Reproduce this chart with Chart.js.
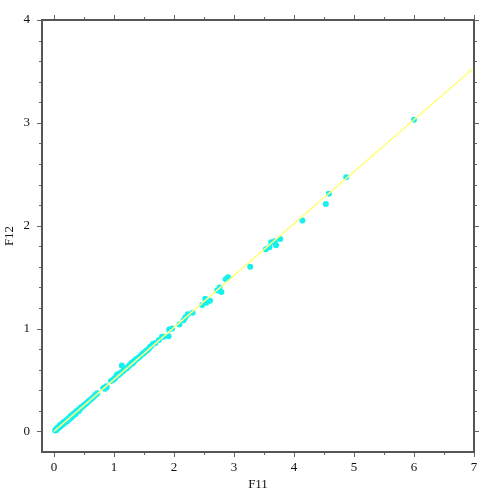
<!DOCTYPE html>
<html>
<head>
<meta charset="utf-8">
<script src="https://cdn.jsdelivr.net/npm/chart.js@4/dist/chart.umd.min.js"></script>
<style>
  html, body { margin: 0; padding: 0; background: #fff; }
  #wrap { width: 488px; height: 493px; }
</style>
</head>
<body>
<div id="wrap"><canvas id="graphCanvas"></canvas></div>
<script>
    // F11 / F12 pairs
    const f11 = [
        0.02, 0.03, 0.04, 0.05, 0.05, 0.06, 0.07, 0.08, 0.09, 0.10, 0.10, 0.11, 0.12, 0.13, 0.14, 0.15,
        0.15, 0.16, 0.17, 0.18, 0.19, 0.20, 0.21, 0.22, 0.23, 0.24, 0.25, 0.26, 0.27, 0.28, 0.29, 0.30,
        0.31, 0.32, 0.33, 0.34, 0.35, 0.36, 0.37, 0.38, 0.40, 0.41, 0.42, 0.44, 0.45, 0.47, 0.49, 0.51,
        0.53, 0.55, 0.57, 0.60, 0.62, 0.65, 0.68, 0.70, 0.72, 0.82, 0.84, 0.86, 0.87, 0.85, 0.88, 0.95,
        0.98, 1.00, 1.02, 1.04, 1.05, 1.07, 1.08, 1.10, 1.13, 1.12, 1.15, 1.17, 1.20, 1.22, 1.25, 1.27,
        1.29, 1.30, 1.31, 1.33, 1.35, 1.36, 1.38, 1.40, 1.42, 1.44, 1.46, 1.48, 1.50, 1.52, 1.54, 1.56,
        1.58, 1.60, 1.62, 1.65, 1.69, 1.75, 1.80, 1.83, 1.91, 1.97, 1.92, 2.09, 2.16, 2.19, 2.23, 2.31,
        2.47, 2.54, 2.60, 2.52, 2.72, 2.76, 2.79, 2.86, 2.90, 3.27, 3.53, 3.59, 3.70, 3.62, 3.68, 3.77,
        4.14, 4.53, 4.58, 4.87, 6.00
    ];
    const f12 = [
        0.010, 0.020, 0.015, 0.030, 0.020, 0.030, 0.040, 0.035, 0.050, 0.045, 0.060, 0.055, 0.070, 0.060, 0.075, 0.070,
        0.085, 0.080, 0.095, 0.085, 0.100, 0.095, 0.110, 0.100, 0.120, 0.115, 0.130, 0.120, 0.145, 0.135, 0.155, 0.140,
        0.160, 0.155, 0.175, 0.165, 0.180, 0.170, 0.195, 0.190, 0.205, 0.195, 0.215, 0.220, 0.235, 0.240, 0.250, 0.260,
        0.270, 0.280, 0.290, 0.305, 0.315, 0.330, 0.350, 0.360, 0.370, 0.420, 0.425, 0.430, 0.440, 0.415, 0.430, 0.490,
        0.500, 0.510, 0.520, 0.540, 0.550, 0.545, 0.560, 0.560, 0.640, 0.575, 0.585, 0.600, 0.610, 0.620, 0.635, 0.650,
        0.660, 0.670, 0.660, 0.680, 0.690, 0.700, 0.705, 0.715, 0.720, 0.735, 0.745, 0.755, 0.765, 0.775, 0.785, 0.795,
        0.805, 0.820, 0.830, 0.850, 0.860, 0.890, 0.920, 0.920, 0.925, 1.000, 0.990, 1.040, 1.080, 1.110, 1.140, 1.155,
        1.230, 1.250, 1.270, 1.290, 1.370, 1.400, 1.355, 1.480, 1.500, 1.600, 1.770, 1.790, 1.810, 1.840, 1.850, 1.870,
        2.050, 2.210, 2.310, 2.470, 3.030
    ];
    // fitted line end points
    const fitX = [0, 7];
    const fitY = [0, 3.535];

    const xTickValues = [0, 1, 2, 3, 4, 5, 6, 7];
    const yTickValues = [0, 1, 2, 3, 4];
    const xMinorValues = [-0.5, 0.5, 1.5, 2.5, 3.5, 4.5, 5.5, 6.5];
    const yMinorValues = [0.2, 0.4, 0.6, 0.8, 1.2, 1.4, 1.6, 1.8, 2.2, 2.4, 2.6, 2.8, 3.2, 3.4, 3.6, 3.8];

    const points = f11.map((x, i) => ({ x: x, y: f12[i] }));
    const fitLine = fitX.map((x, i) => ({ x: x, y: fitY[i] }));

    const font = { family: "'Liberation Serif', serif", size: 13 };

    // frame round the plot plus inner/outer tick marks on all four sides
    const frameTicks = {
        id: 'frameTicks',
        afterDraw(chart) {
            const c = chart.ctx;
            const a = chart.chartArea;
            const xs = chart.scales.x, ys = chart.scales.y;
            c.save();
            c.strokeStyle = '#666';
            c.lineWidth = 1;
            const tick = (x1, y1, x2, y2) => {
                c.beginPath(); c.moveTo(x1, y1); c.lineTo(x2, y2); c.stroke();
            };
            xTickValues.forEach(v => {
                const p = Math.round(xs.getPixelForValue(v)) + 0.5;
                tick(p, a.bottom, p, a.bottom + 5);
                tick(p, a.top, p, a.top - 5);
            });
            xMinorValues.forEach(v => {
                if (v < xs.min) return;
                const p = Math.round(xs.getPixelForValue(v)) + 0.5;
                tick(p, a.bottom, p, a.bottom + 3);
                tick(p, a.top, p, a.top - 3);
            });
            yTickValues.forEach(v => {
                const p = Math.round(ys.getPixelForValue(v)) + 0.5;
                tick(a.left, p, a.left - 5, p);
                tick(a.right, p, a.right + 5, p);
            });
            yMinorValues.forEach(v => {
                const p = Math.round(ys.getPixelForValue(v)) + 0.5;
                tick(a.left, p, a.left - 3, p);
                tick(a.right, p, a.right + 3, p);
            });
            c.strokeStyle = '#555';
            c.lineWidth = 2;
            c.strokeRect(a.left, a.top, a.right - a.left, a.bottom - a.top);
            c.restore();
        }
    };

    new Chart(document.getElementById('graphCanvas'), {
        type: 'scatter',
        data: {
            datasets: [{
                type: 'line',
                label: 'fit',
                data: fitLine,
                borderColor: '#ffff7a',
                borderWidth: 1.5,
                pointRadius: 0,
                fill: false,
                order: 0
            }, {
                label: 'F12',
                data: points,
                backgroundColor: '#14f0f0',
                borderWidth: 0,
                pointRadius: 3,
                order: 1
            }]
        },
        plugins: [frameTicks],
        options: {
            responsive: true,
            maintainAspectRatio: false,
            animation: false,
            plugins: {
                legend: { display: false },
                tooltip: { enabled: false }
            },
            layout: {
                padding: { top: 20, right: 14, left: 0, bottom: 0 }
            },
            scales: {
                x: {
                    type: 'linear',
                    min: -0.2,
                    max: 7,
                    afterBuildTicks: scale => { scale.ticks = xTickValues.map(v => ({ value: v })); },
                    afterFit: scale => { scale.height = 41; },
                    grid: { display: false, drawTicks: false },
                    border: { display: false },
                    ticks: { color: '#111', font: font, padding: 8 },
                    title: { display: true, text: 'F11', color: '#111', font: font, padding: { top: 0, bottom: 1 } }
                },
                y: {
                    type: 'linear',
                    min: -0.2,
                    max: 4,
                    afterBuildTicks: scale => { scale.ticks = yTickValues.map(v => ({ value: v })); },
                    afterFit: scale => { scale.width = 42; },
                    grid: { display: false, drawTicks: false },
                    border: { display: false },
                    ticks: { color: '#111', font: font, padding: 12 },
                    title: { display: true, text: 'F12', color: '#111', font: font, padding: { top: 2, bottom: 0 } }
                }
            }
        }
    });
</script>
</body>
</html>
